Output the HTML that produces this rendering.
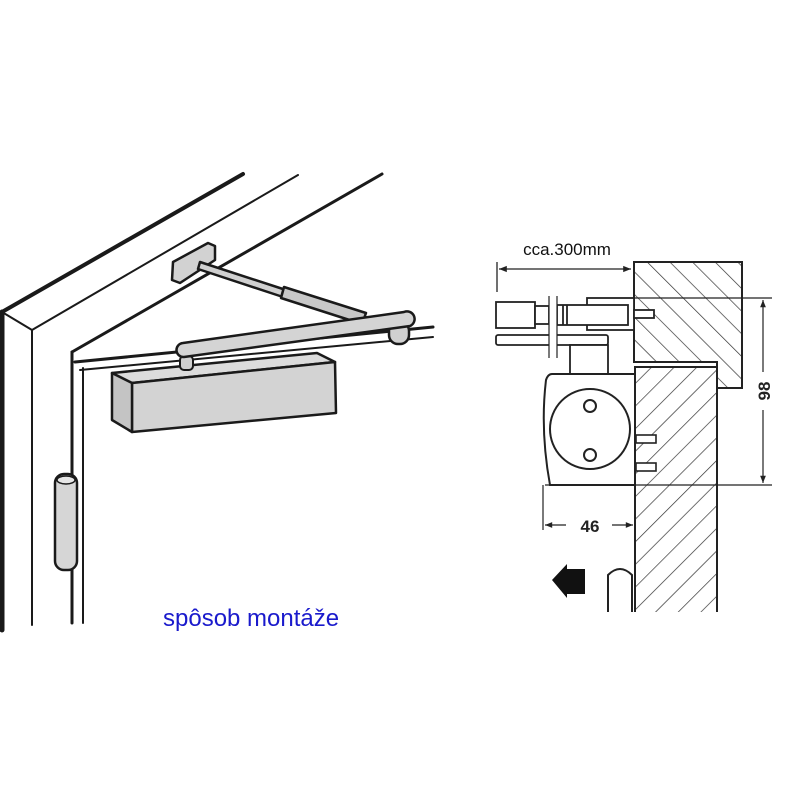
<!DOCTYPE html>
<html><head><meta charset="utf-8"><style>
html,body{margin:0;padding:0;background:#fff;}
svg{display:block;}
</style></head><body>
<svg width="800" height="800" viewBox="0 0 800 800" xmlns="http://www.w3.org/2000/svg">
<defs>
<pattern id="h1" patternUnits="userSpaceOnUse" width="16" height="16" patternTransform="rotate(-45)">
<line x1="0" y1="0" x2="0" y2="16" stroke="#333" stroke-width="1.4"/>
</pattern>
<pattern id="h2" patternUnits="userSpaceOnUse" width="16" height="16" patternTransform="rotate(45)">
<line x1="0" y1="0" x2="0" y2="16" stroke="#333" stroke-width="1.4"/>
</pattern>
<marker id="ar" viewBox="0 0 10 10" refX="10" refY="5" markerWidth="8" markerHeight="6" orient="auto-start-reverse">
<path d="M0,1 L10,5 L0,9 z" fill="#222"/>
</marker>
</defs>

<!-- LEFT DRAWING -->
<g stroke="#1a1a1a" fill="none" stroke-linecap="round">
<line x1="2" y1="312" x2="243" y2="174" stroke-width="4"/>
<line x1="32" y1="330" x2="298" y2="175" stroke-width="2"/>
<line x1="72" y1="352" x2="382" y2="174" stroke-width="3"/>
<line x1="2" y1="312" x2="32" y2="330" stroke-width="2"/>
<line x1="2" y1="312" x2="2" y2="630" stroke-width="5"/>
<line x1="32" y1="330" x2="32" y2="625" stroke-width="2"/>
<line x1="72" y1="352" x2="72" y2="623" stroke-width="3"/>
<line x1="83" y1="368" x2="83" y2="623" stroke-width="2"/>
<line x1="75" y1="362" x2="433" y2="327" stroke-width="3"/>
<line x1="80" y1="370" x2="433" y2="337" stroke-width="2"/>
</g>
<!-- hinge -->
<rect x="55" y="474" width="22" height="96" rx="9" fill="#d6d6d6" stroke="#1a1a1a" stroke-width="2.5"/>
<ellipse cx="66" cy="480" rx="9" ry="4" fill="#e6e6e6" stroke="#1a1a1a" stroke-width="1.5"/>
<!-- bracket and link arm -->
<g stroke="#1a1a1a" stroke-width="2.5" stroke-linejoin="round">
<polygon points="173,262 208,243 215,246 215,260 180,283 172,280" fill="#d2d2d2"/>
<polygon points="200,262 286,290 283,297 198,269" fill="#d0d0d0"/>
<polygon points="284,287 366,313 362,324 281,298" fill="#c8c8c8"/>
</g>
<!-- closer body -->
<g stroke="#1a1a1a" stroke-width="2.5" stroke-linejoin="round">
<polygon points="112,373 317,353 335,362 132,383" fill="#dcdcdc"/>
<polygon points="132,383 335,362 336,413 132,432" fill="#d3d3d3"/>
<polygon points="112,373 132,383 132,432 112,420" fill="#c4c4c4"/>
</g>
<rect x="180" y="356" width="13" height="14" rx="4" fill="#d0d0d0" stroke="#1a1a1a" stroke-width="2"/>
<rect x="389" y="322" width="20" height="22" rx="9" fill="#d0d0d0" stroke="#1a1a1a" stroke-width="2.5"/>
<path d="M183,343 L404,312 A7,7 0 0 1 410,326 L184,357 A7,7 0 0 1 183,343 z" fill="#d4d4d4" stroke="#1a1a1a" stroke-width="2.5"/>

<text x="163" y="626" font-family="Liberation Sans, sans-serif" font-size="24" fill="#1a1acc">spôsob montáže</text>

<!-- RIGHT DRAWING -->
<text x="567" y="255" text-anchor="middle" font-family="Liberation Sans, sans-serif" font-size="17" fill="#111">cca.300mm</text>
<g stroke="#222" stroke-width="1.3" fill="none">
<line x1="497" y1="262" x2="497" y2="292"/>
<line x1="499" y1="269" x2="631" y2="269" marker-start="url(#ar)" marker-end="url(#ar)"/>
</g>
<polygon points="634,262 742,262 742,388 717,388 717,362 634,362" fill="url(#h1)" stroke="#222" stroke-width="2"/>
<rect x="635" y="367" width="82" height="245" fill="url(#h2)" stroke="none"/>
<polyline points="635,612 635,367 717,367 717,612" fill="none" stroke="#222" stroke-width="2"/>
<g stroke="#222" stroke-width="1.2" fill="none">
<line x1="634" y1="298" x2="772" y2="298"/>
<line x1="545" y1="485" x2="772" y2="485"/>
<line x1="763" y1="300" x2="763" y2="372" marker-start="url(#ar)"/>
<line x1="763" y1="410" x2="763" y2="483" marker-end="url(#ar)"/>
<line x1="543" y1="485" x2="543" y2="530"/>
<line x1="545" y1="525" x2="566" y2="525" marker-start="url(#ar)"/>
<line x1="612" y1="525" x2="633" y2="525" marker-end="url(#ar)"/>
</g>
<text x="0" y="0" transform="translate(770,391) rotate(-90)" text-anchor="middle" font-family="Liberation Sans, sans-serif" font-weight="bold" font-size="17" fill="#222">98</text>
<text x="590" y="532" text-anchor="middle" font-family="Liberation Sans, sans-serif" font-weight="bold" font-size="17" fill="#222">46</text>
<g stroke="#222" stroke-width="1.8" fill="#fff">
<rect x="587" y="298" width="47" height="32"/>
<rect x="634" y="310" width="20" height="8"/>
<rect x="496" y="302" width="39" height="26"/>
<rect x="535" y="306" width="14" height="18"/>
<rect x="557" y="305" width="71" height="20"/>
<line x1="563" y1="305" x2="563" y2="325"/>
<line x1="567" y1="305" x2="567" y2="325"/>
<rect x="496" y="335" width="112" height="10" rx="2"/>
<rect x="570" y="345" width="38" height="30"/>
</g>
<rect x="549" y="296" width="8" height="62" fill="#fff"/>
<g stroke="#222" stroke-width="1.2">
<line x1="549" y1="296" x2="549" y2="358"/>
<line x1="557" y1="296" x2="557" y2="358"/>
</g>
<path d="M552,374 L635,374 L635,485 L550,485 Q540,430 546,380 Q548,374 552,374 z" fill="#fff" stroke="#222" stroke-width="2"/>
<circle cx="590" cy="429" r="40" fill="none" stroke="#222" stroke-width="2"/>
<circle cx="590" cy="406" r="6" fill="none" stroke="#222" stroke-width="2"/>
<circle cx="590" cy="455" r="6" fill="none" stroke="#222" stroke-width="2"/>
<g stroke="#222" stroke-width="1.6" fill="#fff">
<rect x="636" y="435" width="20" height="8"/>
<rect x="636" y="463" width="20" height="8"/>
</g>
<polygon points="552,580 567,564 567,569 585,569 585,594 567,594 567,598" fill="#111"/>
<path d="M608,612 L608,575 Q620,563 632,575 L632,612" fill="#fff" stroke="#222" stroke-width="2"/>
</svg>
</body></html>
